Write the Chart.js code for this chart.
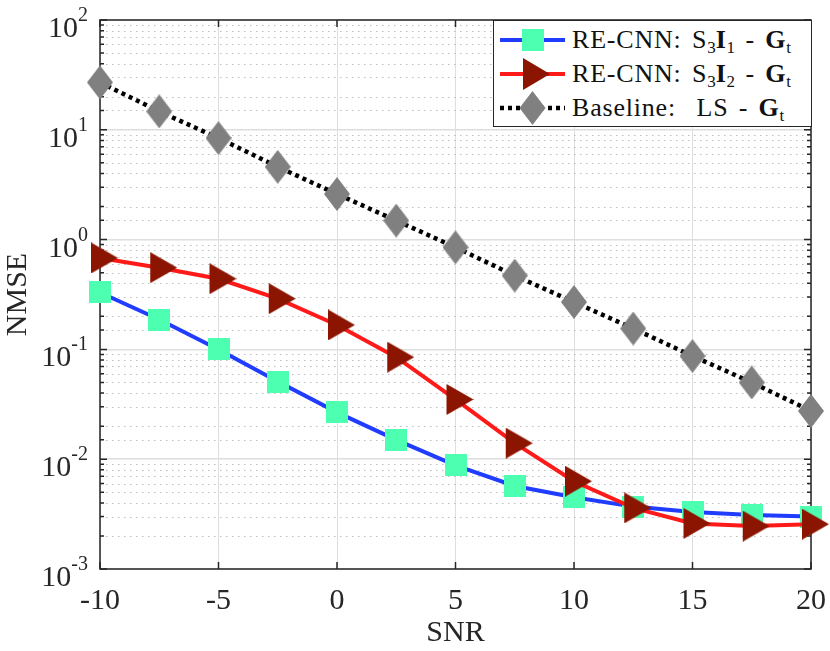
<!DOCTYPE html>
<html lang="en">
<head>
    <meta charset="UTF-8">
    <title>NMSE vs SNR</title>
    <script src="https://cdn.jsdelivr.net/npm/chart.js"></script>
    <style>
        body { margin: 0; background: #fff; }
        #wrap { position: relative; width: 830px; height: 651px; }
        #legend {
            position: absolute; left: 493px; top: 20px; width: 317px; height: 105px;
            border: 1px solid #262626; background: #fff;
            font-family: "Liberation Serif", serif; font-size: 26px; color: #111;
            letter-spacing: 0.8px; word-spacing: 3px;
        }
        .row { position: absolute; left: 0; height: 34px; display: flex; align-items: center; white-space: nowrap; }
        .row svg { margin-left: 6px; margin-right: 7px; }
        sub { font-size: 17px; vertical-align: -5px; line-height: 0; letter-spacing: 0; }
        b { font-weight: bold; }
    </style>
</head>
<body>
<div id="wrap">
    <canvas id="nmseChart" width="830" height="651"></canvas>
    <div id="legend">
        <div class="row" style="top:2px">
            <svg width="65" height="34"><line x1="0" y1="17" x2="65" y2="17" stroke="#1f3cff" stroke-width="4"/><rect x="22" y="6" width="22" height="22" fill="#4dffb0"/></svg>
            <span>RE-CNN: S<sub>3</sub><b>I</b><sub>1</sub> - <b>G</b><sub>t</sub></span>
        </div>
        <div class="row" style="top:36px">
            <svg width="65" height="34"><line x1="0" y1="17" x2="65" y2="17" stroke="#ff1a1a" stroke-width="4"/><polygon points="23,1 50,17 23,33" fill="#8b1500"/></svg>
            <span>RE-CNN: S<sub>3</sub><b>I</b><sub>2</sub> - <b>G</b><sub>t</sub></span>
        </div>
        <div class="row" style="top:70px">
            <svg width="65" height="34"><line x1="0" y1="17" x2="65" y2="17" stroke="#000" stroke-width="4.5" stroke-dasharray="4,4"/><polygon points="32.5,0 45.5,17 32.5,34 19.5,17" fill="#808080"/></svg>
            <span>Baseline:&nbsp; LS - <b>G</b><sub>t</sub></span>
        </div>
    </div>
</div>

<script>
    // SNR 값 (x 축)
    const snr = [-10, -7.5, -5, -2.5, 0, 2.5, 5, 7.5, 10, 12.5, 15, 17.5, 20];

    // NMSE 값
    const nmseS3I1 = [0.33, 0.187, 0.1, 0.051, 0.0267, 0.015, 0.0088, 0.0057, 0.0045, 0.0037, 0.0033, 0.0031, 0.0030];
    const nmseS3I2 = [0.68, 0.555, 0.44, 0.29, 0.167, 0.085, 0.035, 0.014, 0.0063, 0.0036, 0.0026, 0.00246, 0.00256];
    const nmseLS = [27, 14.7, 8.4, 4.6, 2.6, 1.49, 0.85, 0.47, 0.27, 0.155, 0.087, 0.05, 0.0275];

    // 축 눈금
    const xTicks = [-10, -5, 0, 5, 10, 15, 20];
    const yExponents = [-3, -2, -1, 0, 1, 2];

    const FONT = '"Liberation Serif", serif';
    const TEXT = '#262626';

    // 마커 이미지
    function makeMarker(w, h, draw) {
        const c = document.createElement('canvas');
        c.width = w; c.height = h;
        draw(c.getContext('2d'));
        return c;
    }
    const squareMarker = makeMarker(22, 22, g => { g.fillStyle = '#4dffb0'; g.fillRect(0, 0, 22, 22); });
    const triMarker = makeMarker(36, 31, g => {
        g.fillStyle = '#8b1500';
        g.beginPath(); g.moveTo(9, 0); g.lineTo(36, 15.5); g.lineTo(9, 31); g.closePath(); g.fill();
    });
    const diamondMarker = makeMarker(26, 34, g => {
        g.fillStyle = '#808080';
        g.beginPath(); g.moveTo(13, 0); g.lineTo(26, 17); g.lineTo(13, 34); g.lineTo(0, 17); g.closePath(); g.fill();
    });

    const isMajor = v => Math.abs(Math.log10(v) - Math.round(Math.log10(v))) < 1e-6;

    // 보조 격자(점선), 축 상자, 안쪽 눈금, y 라벨
    const axesPlugin = {
        id: 'axesPlugin',
        beforeDatasetsDraw(chart) {
            const g = chart.ctx;
            const a = chart.chartArea;
            const xs = chart.scales.x, ys = chart.scales.y;
            g.save();

            // 보조 격자
            g.strokeStyle = '#bdbdbd';
            g.lineWidth = 1;
            g.setLineDash([1.5, 4.5]);
            g.beginPath();
            ys.ticks.forEach(t => {
                if (isMajor(t.value)) return;
                const py = Math.round(ys.getPixelForValue(t.value)) + 0.5;
                g.moveTo(a.left, py); g.lineTo(a.right, py);
            });
            g.stroke();
            g.setLineDash([]);

            g.strokeStyle = TEXT;
            g.lineWidth = 1.5;
            g.beginPath();
            xTicks.forEach(t => {
                const px = xs.getPixelForValue(t);
                g.moveTo(px, a.bottom); g.lineTo(px, a.bottom - 7);
                g.moveTo(px, a.top); g.lineTo(px, a.top + 7);
            });
            ys.ticks.forEach(t => {
                const py = ys.getPixelForValue(t.value);
                const len = isMajor(t.value) ? 7 : 4;
                g.moveTo(a.left, py); g.lineTo(a.left + len, py);
                g.moveTo(a.right, py); g.lineTo(a.right - len, py);
            });
            g.stroke();
            g.strokeRect(a.left, a.top, a.right - a.left, a.bottom - a.top);

            g.fillStyle = TEXT;
            g.textBaseline = 'alphabetic';
            yExponents.forEach(e => {
                const py = ys.getPixelForValue(Math.pow(10, e));
                g.font = '20px ' + FONT;
                g.textAlign = 'right';
                const ex = String(e);
                const w = g.measureText(ex).width;
                g.fillText(ex, 88, py + 1);
                g.font = '30px ' + FONT;
                g.fillText('10', 88 - w, py + 17);
            });
            g.restore();
        }
    };

    new Chart(document.getElementById('nmseChart'), {
        type: 'line',
        data: {
            datasets: [
                {
                    label: 'S3I1',
                    data: snr.map((x, i) => ({x: x, y: nmseS3I1[i]})),
                    borderColor: '#1f3cff',
                    borderWidth: 4,
                    pointStyle: squareMarker,
                    order: 1,
                    clip: false
                },
                {
                    label: 'S3I2',
                    data: snr.map((x, i) => ({x: x, y: nmseS3I2[i]})),
                    borderColor: '#ff1a1a',
                    borderWidth: 4,
                    pointStyle: triMarker,
                    order: 0,
                    clip: false
                },
                {
                    label: 'LS',
                    data: snr.map((x, i) => ({x: x, y: nmseLS[i]})),
                    borderColor: '#000',
                    borderWidth: 4.5,
                    borderDash: [4, 4],
                    pointStyle: diamondMarker,
                    order: 2,
                    clip: false
                }
            ]
        },
        options: {
            responsive: false,
            animation: false,
            layout: { padding: { top: 20, right: 19, left: 0, bottom: 0 } },
            plugins: { legend: { display: false }, tooltip: { enabled: false } },
            scales: {
                x: {
                    type: 'linear',
                    min: -10, max: 20,
                    afterBuildTicks: s => { s.ticks = xTicks.map(v => ({value: v})); },
                    afterFit: s => { s.height = 82; s.paddingLeft = 0; s.paddingRight = 0; },
                    grid: { color: '#dedede', lineWidth: 1, drawTicks: false },
                    border: { display: false },
                    ticks: { font: { family: FONT, size: 30 }, color: TEXT, padding: 14, maxRotation: 0 },
                    title: { display: true, text: 'SNR', font: { family: FONT, size: 30 }, color: TEXT, padding: { top: 0, bottom: 0 } }
                },
                y: {
                    type: 'logarithmic',
                    min: 0.001, max: 100,
                    afterFit: s => { s.width = 100; s.paddingTop = 0; s.paddingBottom = 0; },
                    grid: {
                        drawTicks: false,
                        color: c => (c.tick && isMajor(c.tick.value)) ? '#dedede' : 'rgba(0,0,0,0)',
                        lineWidth: 1.5
                    },
                    border: { display: false },
                    ticks: { callback: () => '', autoSkip: false },
                    title: { display: true, text: 'NMSE', font: { family: FONT, size: 30 }, color: TEXT, padding: { top: 0, bottom: 0 } }
                }
            }
        },
        plugins: [axesPlugin]
    });
</script>
</body>
</html>
